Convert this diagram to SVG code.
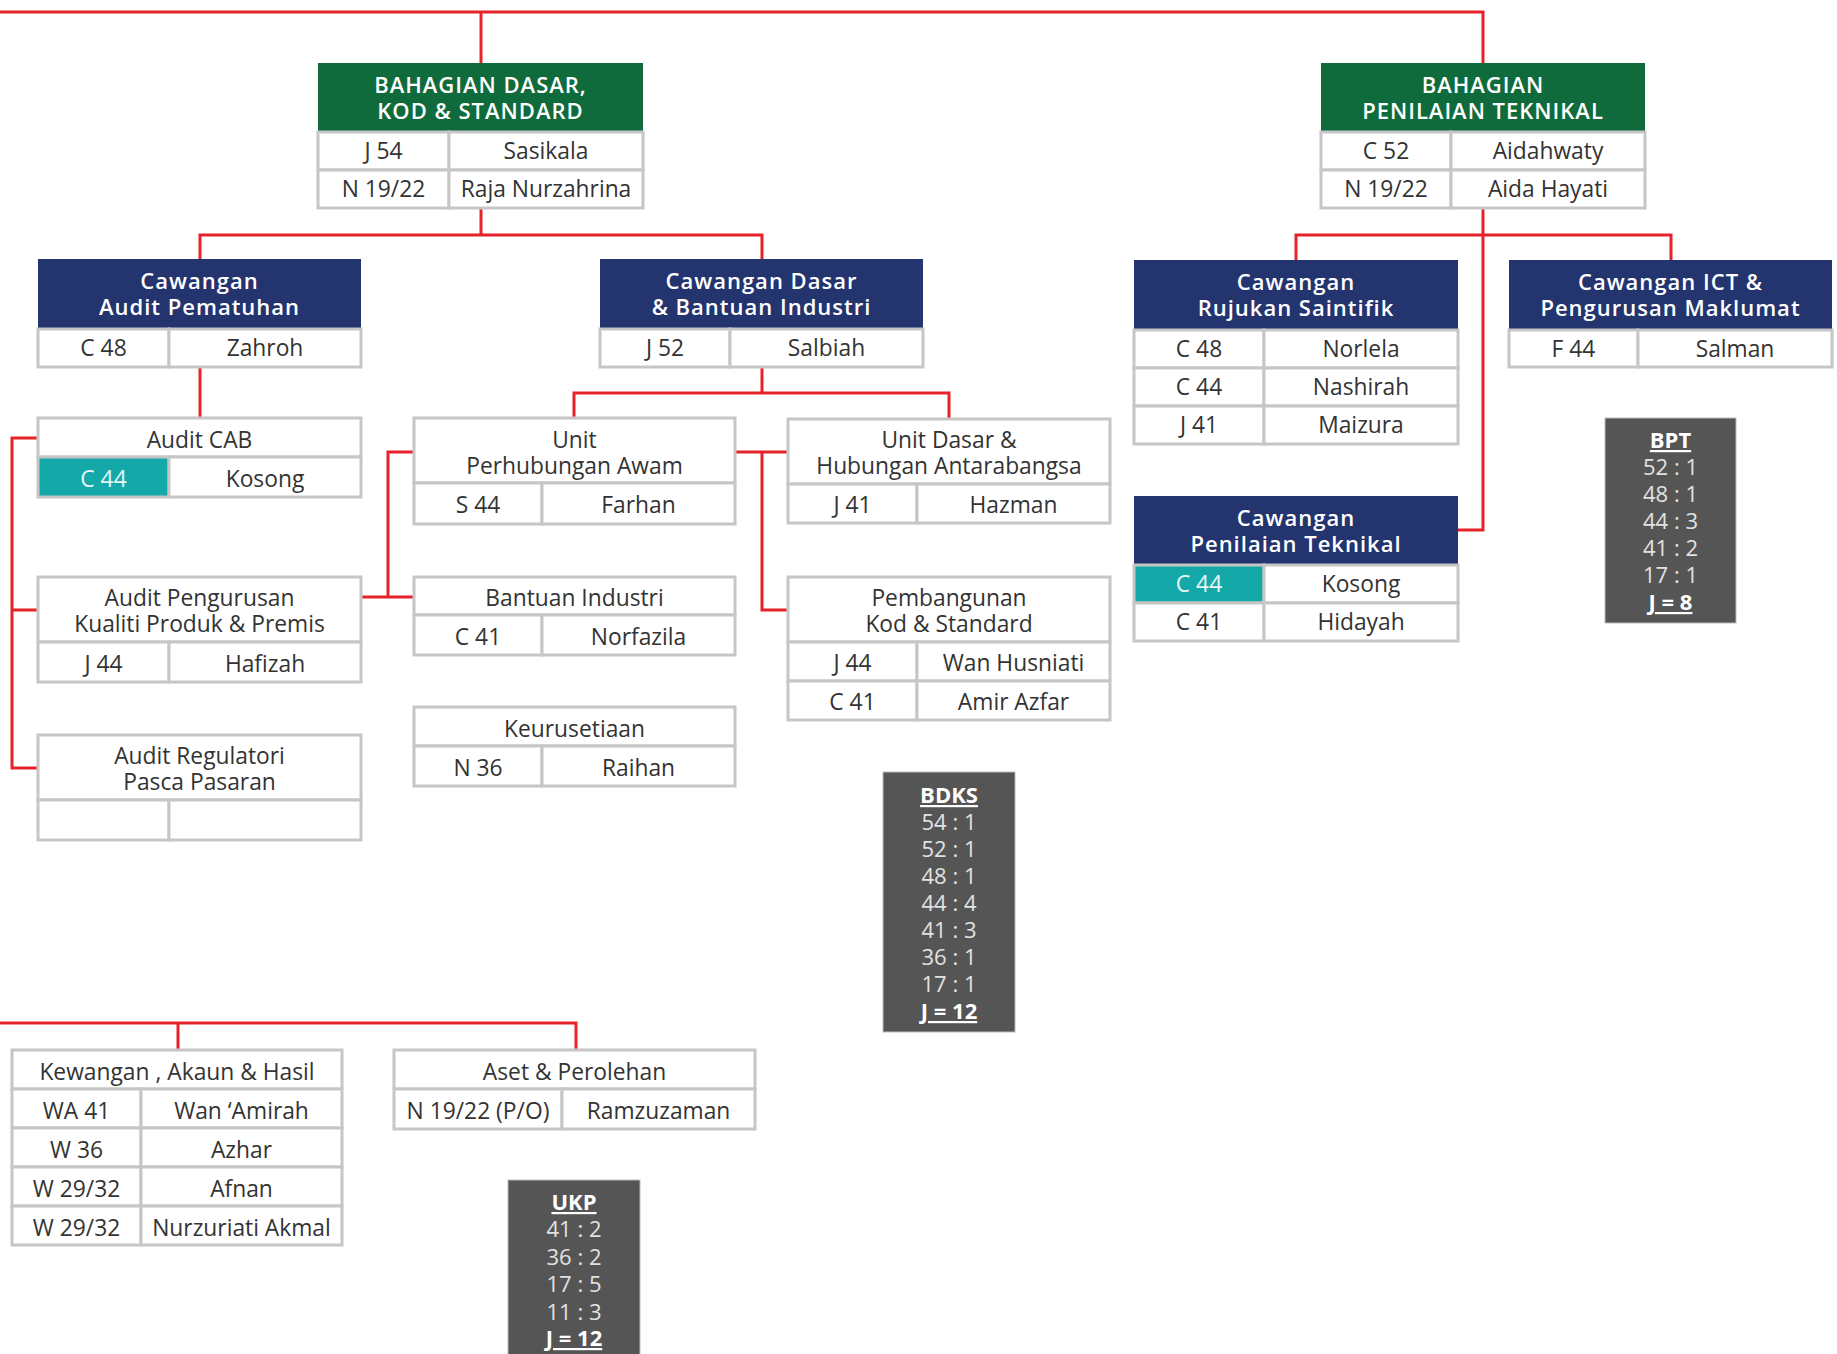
<svg xmlns="http://www.w3.org/2000/svg" width="1837" height="1354" viewBox="0 0 1837 1354">
<style>
.bg{fill:#ffffff}
.hg{fill:#0f6b3b}
.hn{fill:#23346f}
.c{fill:#ffffff;stroke:#c6c6c6;stroke-width:3}
.tl{fill:#14a8a8;stroke:#c6c6c6;stroke-width:3}
.sb{fill:#555555;stroke:#bbbbbb;stroke-width:1}
text{font-family:"Open Sans","Liberation Sans",sans-serif;font-size:22.8px;text-anchor:middle;fill:#333333}
.th{font-weight:600;fill:#ffffff;font-size:22px;letter-spacing:1px}
.tw{fill:#e6f6f6}
.st{fill:#e2e2e2;font-size:22px}
.sh{fill:#ffffff;font-weight:700;font-size:22px;text-decoration:underline}
.conn path{stroke:#e6232b;stroke-width:3;fill:none}
</style>
<rect class="bg" x="0" y="0" width="1837" height="1354"/>
<g class="conn" id="connectors">
<path d="M0 12 H1483 V63"/>
<path d="M481 12 V63"/>
<path d="M481 208 V235 M200 259 V235 H762 V259"/>
<path d="M200 367 V418"/>
<path d="M38 438 H12 V768 H38 M12 610 H38"/>
<path d="M762 367 V393 M574 418 V393 H949 V419"/>
<path d="M414 452 H388 V597 M361 597 H414"/>
<path d="M735 452 H788 M762 452 V610 H788"/>
<path d="M1483 208 V530 H1458"/>
<path d="M1296 260 V235 H1671 V260"/>
<path d="M0 1023 H576 V1050 M178 1023 V1050"/>
</g>
<g id="bdks">
<rect class="hg" x="318" y="63" width="325" height="69"/>
<text class="th"><tspan x="480.5" y="92.5">BAHAGIAN DASAR,</tspan><tspan x="480.5" y="118.5">KOD &amp; STANDARD</tspan></text>
<rect class="c" x="318" y="132" width="131" height="38"/><rect class="c" x="449" y="132" width="194" height="38"/>
<rect class="c" x="318" y="170" width="131" height="38"/><rect class="c" x="449" y="170" width="194" height="38"/>
<text x="383.5" y="159">J 54</text><text x="546" y="159">Sasikala</text>
<text x="383.5" y="197">N 19/22</text><text x="546" y="197">Raja Nurzahrina</text>
</g>
<g id="bpt">
<rect class="hg" x="1321" y="63" width="324" height="69"/>
<text class="th"><tspan x="1483" y="92.5">BAHAGIAN</tspan><tspan x="1483" y="118.5">PENILAIAN TEKNIKAL</tspan></text>
<rect class="c" x="1321" y="132" width="130" height="38"/><rect class="c" x="1451" y="132" width="194" height="38"/>
<rect class="c" x="1321" y="170" width="130" height="38"/><rect class="c" x="1451" y="170" width="194" height="38"/>
<text x="1386" y="159">C 52</text><text x="1548" y="159">Aidahwaty</text>
<text x="1386" y="197">N 19/22</text><text x="1548" y="197">Aida Hayati</text>
</g>
<g id="cw-audit">
<rect class="hn" x="38" y="259" width="323" height="70"/>
<text class="th"><tspan x="199.5" y="289">Cawangan</tspan><tspan x="199.5" y="315">Audit Pematuhan</tspan></text>
<rect class="c" x="38" y="329" width="131" height="38"/><rect class="c" x="169" y="329" width="192" height="38"/>
<text x="103.5" y="356">C 48</text><text x="265" y="356">Zahroh</text>
</g>
<g id="cw-dasar">
<rect class="hn" x="600" y="259" width="323" height="70"/>
<text class="th"><tspan x="761.5" y="289">Cawangan Dasar</tspan><tspan x="761.5" y="315">&amp; Bantuan Industri</tspan></text>
<rect class="c" x="600" y="329" width="130" height="38"/><rect class="c" x="730" y="329" width="193" height="38"/>
<text x="665" y="356">J 52</text><text x="826.5" y="356">Salbiah</text>
</g>
<g id="cw-rujukan">
<rect class="hn" x="1134" y="260" width="324" height="70"/>
<text class="th"><tspan x="1296" y="290">Cawangan</tspan><tspan x="1296" y="316">Rujukan Saintifik</tspan></text>
<rect class="c" x="1134" y="330" width="130" height="38"/><rect class="c" x="1264" y="330" width="194" height="38"/>
<rect class="c" x="1134" y="368" width="130" height="38"/><rect class="c" x="1264" y="368" width="194" height="38"/>
<rect class="c" x="1134" y="406" width="130" height="38"/><rect class="c" x="1264" y="406" width="194" height="38"/>
<text x="1199" y="357">C 48</text><text x="1361" y="357">Norlela</text>
<text x="1199" y="395">C 44</text><text x="1361" y="395">Nashirah</text>
<text x="1199" y="433">J 41</text><text x="1361" y="433">Maizura</text>
</g>
<g id="cw-ict">
<rect class="hn" x="1509" y="260" width="323" height="70"/>
<text class="th"><tspan x="1670.5" y="290">Cawangan ICT &amp;</tspan><tspan x="1670.5" y="316">Pengurusan Maklumat</tspan></text>
<rect class="c" x="1509" y="330" width="129" height="37"/><rect class="c" x="1638" y="330" width="194" height="37"/>
<text x="1573.5" y="356.5">F 44</text><text x="1735" y="356.5">Salman</text>
</g>
<g id="cw-penilaian">
<rect class="hn" x="1134" y="496" width="324" height="69"/>
<text class="th"><tspan x="1296" y="525.5">Cawangan</tspan><tspan x="1296" y="551.5">Penilaian Teknikal</tspan></text>
<rect class="tl" x="1134" y="565" width="130" height="38"/><rect class="c" x="1264" y="565" width="194" height="38"/>
<rect class="c" x="1134" y="603" width="130" height="38"/><rect class="c" x="1264" y="603" width="194" height="38"/>
<text class="tw" x="1199" y="592">C 44</text><text x="1361" y="592">Kosong</text>
<text x="1199" y="630">C 41</text><text x="1361" y="630">Hidayah</text>
</g>
<g id="audit-cab">
<rect class="c" x="38" y="418" width="323" height="39"/>
<text x="199.5" y="447.5">Audit CAB</text>
<rect class="tl" x="38" y="457" width="131" height="40"/><rect class="c" x="169" y="457" width="192" height="40"/>
<text class="tw" x="103.5" y="487">C 44</text><text x="265" y="487">Kosong</text>
</g>
<g id="audit-pengurusan">
<rect class="c" x="38" y="577" width="323" height="65"/>
<text><tspan x="199.5" y="606">Audit Pengurusan</tspan><tspan x="199.5" y="632">Kualiti Produk &amp; Premis</tspan></text>
<rect class="c" x="38" y="642" width="131" height="40"/><rect class="c" x="169" y="642" width="192" height="40"/>
<text x="103.5" y="671.5">J 44</text><text x="265" y="671.5">Hafizah</text>
</g>
<g id="audit-regulatori">
<rect class="c" x="38" y="735" width="323" height="65"/>
<text><tspan x="199.5" y="764">Audit Regulatori</tspan><tspan x="199.5" y="790">Pasca Pasaran</tspan></text>
<rect class="c" x="38" y="800" width="131" height="40"/><rect class="c" x="169" y="800" width="192" height="40"/>
</g>
<g id="unit-perhubungan">
<rect class="c" x="414" y="418" width="321" height="65"/>
<text><tspan x="574.5" y="447.5">Unit</tspan><tspan x="574.5" y="473.5">Perhubungan Awam</tspan></text>
<rect class="c" x="414" y="483" width="128" height="41"/><rect class="c" x="542" y="483" width="193" height="41"/>
<text x="478" y="513">S 44</text><text x="638.5" y="513">Farhan</text>
</g>
<g id="bantuan-industri">
<rect class="c" x="414" y="577" width="321" height="38"/>
<text x="574.5" y="605.5">Bantuan Industri</text>
<rect class="c" x="414" y="615" width="128" height="40"/><rect class="c" x="542" y="615" width="193" height="40"/>
<text x="478" y="644.5">C 41</text><text x="638.5" y="644.5">Norfazila</text>
</g>
<g id="keurusetiaan">
<rect class="c" x="414" y="707" width="321" height="39"/>
<text x="574.5" y="736.5">Keurusetiaan</text>
<rect class="c" x="414" y="746" width="128" height="40"/><rect class="c" x="542" y="746" width="193" height="40"/>
<text x="478" y="776">N 36</text><text x="638.5" y="776">Raihan</text>
</g>
<g id="unit-dasar">
<rect class="c" x="788" y="419" width="322" height="65"/>
<text><tspan x="949" y="448">Unit Dasar &amp;</tspan><tspan x="949" y="474">Hubungan Antarabangsa</tspan></text>
<rect class="c" x="788" y="484" width="129" height="39"/><rect class="c" x="917" y="484" width="193" height="39"/>
<text x="852.5" y="512.5">J 41</text><text x="1013.5" y="512.5">Hazman</text>
</g>
<g id="pembangunan">
<rect class="c" x="788" y="577" width="322" height="65"/>
<text><tspan x="949" y="606">Pembangunan</tspan><tspan x="949" y="632">Kod &amp; Standard</tspan></text>
<rect class="c" x="788" y="642" width="129" height="39"/><rect class="c" x="917" y="642" width="193" height="39"/>
<rect class="c" x="788" y="681" width="129" height="39"/><rect class="c" x="917" y="681" width="193" height="39"/>
<text x="852.5" y="671">J 44</text><text x="1013.5" y="671">Wan Husniati</text>
<text x="852.5" y="710">C 41</text><text x="1013.5" y="710">Amir Azfar</text>
</g>
<g id="kewangan">
<rect class="c" x="12" y="1050" width="330" height="39"/>
<text x="177" y="1079.5">Kewangan , Akaun &amp; Hasil</text>
<rect class="c" x="12" y="1089" width="129" height="39"/><rect class="c" x="141" y="1089" width="201" height="39"/>
<rect class="c" x="12" y="1128" width="129" height="39"/><rect class="c" x="141" y="1128" width="201" height="39"/>
<rect class="c" x="12" y="1167" width="129" height="39"/><rect class="c" x="141" y="1167" width="201" height="39"/>
<rect class="c" x="12" y="1206" width="129" height="39"/><rect class="c" x="141" y="1206" width="201" height="39"/>
<text x="76.5" y="1118.5">WA 41</text><text x="241.5" y="1118.5">Wan ‘Amirah</text>
<text x="76.5" y="1157.5">W 36</text><text x="241.5" y="1157.5">Azhar</text>
<text x="76.5" y="1196.5">W 29/32</text><text x="241.5" y="1196.5">Afnan</text>
<text x="76.5" y="1235.5">W 29/32</text><text x="241.5" y="1235.5">Nurzuriati Akmal</text>
</g>
<g id="aset">
<rect class="c" x="394" y="1050" width="361" height="39"/>
<text x="574.5" y="1079.5">Aset &amp; Perolehan</text>
<rect class="c" x="394" y="1089" width="168" height="40"/><rect class="c" x="562" y="1089" width="193" height="40"/>
<text x="478" y="1119">N 19/22 (P/O)</text><text x="658.5" y="1119">Ramzuzaman</text>
</g>
<g id="stat-bdks">
<rect class="sb" x="883" y="772" width="132" height="260"/>
<text class="sh" x="949" y="803">BDKS</text>
<text class="st" x="949" y="830">54 : 1</text>
<text class="st" x="949" y="857">52 : 1</text>
<text class="st" x="949" y="884">48 : 1</text>
<text class="st" x="949" y="911">44 : 4</text>
<text class="st" x="949" y="938">41 : 3</text>
<text class="st" x="949" y="965">36 : 1</text>
<text class="st" x="949" y="992">17 : 1</text>
<text class="sh" x="949" y="1019">J = 12</text>
</g>
<g id="stat-bpt">
<rect class="sb" x="1605" y="418" width="131" height="205"/>
<text class="sh" x="1670.5" y="448">BPT</text>
<text class="st" x="1670.5" y="475">52 : 1</text>
<text class="st" x="1670.5" y="502">48 : 1</text>
<text class="st" x="1670.5" y="529">44 : 3</text>
<text class="st" x="1670.5" y="556">41 : 2</text>
<text class="st" x="1670.5" y="583">17 : 1</text>
<text class="sh" x="1670.5" y="610">J = 8</text>
</g>
<g id="stat-ukp">
<rect class="sb" x="508" y="1180" width="132" height="180"/>
<text class="sh" x="574" y="1210">UKP</text>
<text class="st" x="574" y="1237">41 : 2</text>
<text class="st" x="574" y="1264.5">36 : 2</text>
<text class="st" x="574" y="1292">17 : 5</text>
<text class="st" x="574" y="1319.5">11 : 3</text>
<text class="sh" x="574" y="1346">J = 12</text>
</g>
</svg>
